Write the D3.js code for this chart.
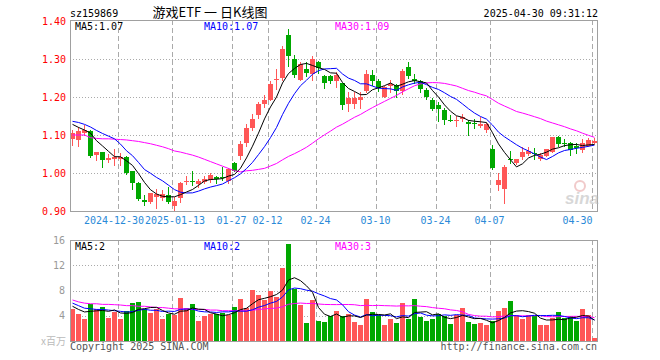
<!DOCTYPE html>
<html><head><meta charset="utf-8">
<script src="https://cdn.jsdelivr.net/npm/d3@7"></script>
<style>
body{margin:0;background:#fff}
svg{display:block}
text{font-family:"DejaVu Sans Mono",monospace;font-size:10px}
</style>
</head><body>
<svg id="c" width="660" height="360"></svg>
<script>
const dates = ["2024-12-18","2024-12-19","2024-12-20","2024-12-23","2024-12-24","2024-12-25","2024-12-26","2024-12-27","2024-12-30","2024-12-31",
"2025-01-02","2025-01-03","2025-01-06","2025-01-07","2025-01-08","2025-01-09","2025-01-10","2025-01-13","2025-01-14","2025-01-15","2025-01-16","2025-01-17","2025-01-20","2025-01-21","2025-01-22","2025-01-23","2025-01-24","2025-01-27",
"2025-02-05","2025-02-06","2025-02-07","2025-02-10","2025-02-11","2025-02-12","2025-02-13","2025-02-14","2025-02-17","2025-02-18","2025-02-19","2025-02-20","2025-02-21","2025-02-24","2025-02-25","2025-02-26","2025-02-27","2025-02-28",
"2025-03-03","2025-03-04","2025-03-05","2025-03-06","2025-03-07","2025-03-10","2025-03-11","2025-03-12","2025-03-13","2025-03-14","2025-03-17","2025-03-18","2025-03-19","2025-03-20","2025-03-21","2025-03-24","2025-03-25","2025-03-26","2025-03-27","2025-03-28","2025-03-31",
"2025-04-01","2025-04-02","2025-04-03","2025-04-07","2025-04-08","2025-04-09","2025-04-10","2025-04-11","2025-04-14","2025-04-15","2025-04-16","2025-04-17","2025-04-18","2025-04-21","2025-04-22","2025-04-23","2025-04-24","2025-04-25","2025-04-28","2025-04-29","2025-04-30"];

const open = [1.090,1.088,1.106,1.111,1.047,1.054,1.035,1.038,1.037,1.043,
1.004,0.975,0.930,0.924,0.936,0.933,0.941,0.912,0.935,0.977,
0.980,0.970,0.977,0.982,0.990,0.989,0.979,1.026,1.045,1.078,
1.118,1.153,1.182,1.193,1.244,1.250,1.364,1.300,1.246,1.274,
1.261,1.291,1.254,1.256,1.242,1.236,1.182,1.182,1.191,1.215,
1.257,1.241,1.200,1.228,1.232,1.216,1.279,1.248,1.242,1.219,
1.193,1.179,1.166,1.140,1.137,1.141,1.134,1.131,1.123,1.114,
1.064,0.969,0.958,1.036,1.026,1.042,1.050,1.053,1.036,1.045,
1.056,1.096,1.080,1.079,1.070,1.060,1.072,1.080];
const close = [1.104,1.110,1.112,1.045,1.054,1.035,1.039,1.042,1.043,1.001,
0.975,0.932,0.925,0.947,0.945,0.945,0.924,0.926,0.975,0.980,
0.978,0.978,0.984,0.995,0.983,0.987,1.010,1.006,1.077,1.118,
1.142,1.182,1.193,1.234,1.248,1.327,1.307,1.259,1.287,1.262,
1.300,1.277,1.237,1.242,1.257,1.178,1.198,1.198,1.199,1.260,
1.241,1.223,1.226,1.234,1.217,1.268,1.255,1.242,1.220,1.200,
1.168,1.169,1.139,1.137,1.140,1.147,1.129,1.128,1.130,1.130,
1.013,0.982,1.016,1.033,1.036,1.054,1.059,1.050,1.048,1.063,
1.094,1.077,1.078,1.060,1.067,1.079,1.086,1.083];
const high = [1.114,1.120,1.125,1.112,1.055,1.056,1.050,1.064,1.052,1.045,
1.005,0.976,0.942,0.948,0.958,0.955,0.962,0.937,0.976,0.992,
1.004,0.984,0.992,1.000,0.993,1.017,1.012,1.030,1.083,1.128,
1.155,1.188,1.206,1.241,1.273,1.335,1.379,1.310,1.292,1.292,
1.307,1.295,1.259,1.258,1.265,1.238,1.213,1.213,1.213,1.271,
1.270,1.247,1.229,1.244,1.234,1.273,1.292,1.260,1.245,1.224,
1.198,1.188,1.171,1.153,1.151,1.155,1.139,1.142,1.147,1.132,
1.074,1.000,1.021,1.059,1.037,1.068,1.069,1.065,1.052,1.064,
1.096,1.097,1.090,1.081,1.078,1.089,1.092,1.092];
const low = [1.074,1.072,1.099,1.041,1.035,1.017,1.030,1.021,1.020,0.997,
0.957,0.928,0.917,0.920,0.908,0.929,0.920,0.899,0.925,0.970,
0.969,0.964,0.973,0.977,0.973,0.982,0.975,1.004,1.037,1.070,
1.114,1.145,1.174,1.191,1.220,1.246,1.281,1.252,1.244,1.256,
1.244,1.264,1.224,1.237,1.225,1.168,1.164,1.172,1.172,1.213,
1.231,1.216,1.199,1.214,1.199,1.208,1.250,1.237,1.213,1.195,
1.165,1.138,1.130,1.136,1.124,1.138,1.099,1.119,1.121,1.109,
1.010,0.955,0.921,1.027,1.025,1.036,1.047,1.038,1.034,1.044,
1.054,1.072,1.070,1.048,1.053,1.056,1.070,1.080];
// volume, millions
const volume = [5.1,4.3,3.5,5.9,5.1,5.4,3.6,4.6,3.5,4.8,
6.0,6.2,5.1,4.4,5.0,3.5,4.2,4.1,6.8,5.3,
5.8,3.2,3.9,4.2,4.2,4.5,4.1,5.4,6.7,5.2,
8.1,7.3,6.5,8.0,6.9,11.6,15.3,8.3,5.7,2.8,
6.5,3.2,3.0,3.9,4.8,3.9,4.3,3.0,2.6,6.7,
4.6,4.1,2.6,3.5,2.9,6.0,3.5,6.7,3.8,3.2,
3.5,4.3,4.0,2.7,4.1,5.2,3.0,2.7,2.9,2.6,
3.2,4.8,5.2,6.4,4.1,3.5,4.1,3.9,2.5,2.6,
3.6,4.6,3.6,3.9,3.1,5.0,4.1,0.4];

// moving-average values at the left edge (history before the window)
const ma5Lead = [1.128,1.120,1.113,1.105];
const ma10Lead = [1.136,1.133,1.128,1.121,1.112,1.104,1.097,1.090,1.076];
const ma30Lead = [1.100,1.100,1.100,1.093,1.091,1.090,1.090,1.089,1.088,1.087,1.085,1.083,1.080,1.077,1.073,1.069,1.064,1.058,1.055,1.051,1.047,1.042,1.036,1.030,1.024,1.018,1.012,1.006,1.003];
const vma5Lead = [5.5,5.0,4.6,4.7];
const vma10Lead = [6.0,5.6,5.2,5.1,5.0,5.0,4.9,4.8,4.7];
const vma30Lead = [6.5,6.2,6.0,5.9,5.9,5.8,5.8,5.75,5.7,5.6,5.6,5.5,5.5,5.4,5.3,5.3,5.2,5.1,5.1,5.1,5.0,5.0,5.0,4.9,4.9,4.8,4.8,4.8,4.8];

const priceTicks = [1.40,1.30,1.20,1.10,1.00,0.90];
const volTicks = [16,12,8,4];
const tickDates = ["2024-12-30","2025-01-13","2025-01-27","2025-02-12","2025-02-24","2025-03-10","2025-03-24","2025-04-07","2025-04-30"];
const tickLabels = ["2024-12-30","2025-01-13","01-27","02-12","02-24","03-10","03-24","04-07","04-30"];
const priceMaLabels = ["MA5:1.07","MA10:1.07","MA30:1.09"];
const volMaLabels = ["MA5:2","MA10:2","MA30:3"];
const maColors = ["#000000","#0000ff","#ff00ff"];

const UP = "#ff5757", DOWN = "#00a800", GRID = "#aaaaaa", BORDER = "#a0a0a0";
const L = 70, R = 598, PT = 20, PB = 211, VT = 240, VB = 341;

const svg = d3.select("#c");
const x = d3.scalePoint().domain(dates).range([72.5, 594.5]);
const y = d3.scaleLinear().domain([0.9, 1.4]).range([PB, 21]);
const yv = d3.scaleLinear().domain([0, 16]).range([VB, VT]);

function ma(vals, n, lead) {
  return vals.map((v, i) => i < n - 1 ? lead[i] : d3.mean(vals.slice(i - n + 1, i + 1)));
}
const gx = d => Math.round(x(d) - 2.5) + 0.5;

// horizontal dotted grid
svg.append("g").selectAll("line").data(priceTicks.filter(t => t < 1.39 && t > 0.91)).join("line")
  .attr("x1", L).attr("x2", R).attr("y1", d => Math.round(y(d)) + 0.5).attr("y2", d => Math.round(y(d)) + 0.5)
  .attr("stroke", GRID).attr("stroke-dasharray", "1,2");
svg.append("g").selectAll("line").data(volTicks.filter(t => t < 16)).join("line")
  .attr("x1", L).attr("x2", R).attr("y1", d => Math.round(yv(d)) + 0.5).attr("y2", d => Math.round(yv(d)) + 0.5)
  .attr("stroke", GRID).attr("stroke-dasharray", "1,2");
// vertical dashed grid
[[PT, PB], [VT, VB]].forEach(([a, b]) => {
  svg.append("g").selectAll("line").data(tickDates).join("line")
    .attr("x1", gx).attr("x2", gx).attr("y1", a).attr("y2", b)
    .attr("stroke", GRID).attr("stroke-dasharray", "5,3");
});

// candles
const idx = d3.range(dates.length);
const cg = svg.append("g");
cg.selectAll("line").data(idx).join("line")
  .attr("x1", i => x(dates[i])).attr("x2", i => x(dates[i]))
  .attr("y1", i => Math.round(y(high[i]))).attr("y2", i => Math.round(y(low[i])) + 1)
  .attr("stroke", i => close[i] >= open[i] ? UP : DOWN);
cg.selectAll("rect").data(idx).join("rect")
  .attr("x", i => x(dates[i]) - 2.5).attr("width", 5)
  .attr("y", i => Math.round(y(Math.max(open[i], close[i]))))
  .attr("height", i => Math.max(1, Math.round(y(Math.min(open[i], close[i]))) - Math.round(y(Math.max(open[i], close[i])))))
  .attr("fill", i => close[i] >= open[i] ? UP : DOWN);

// volume bars
svg.append("g").selectAll("rect").data(idx).join("rect")
  .attr("x", i => x(dates[i]) - 2.5).attr("width", 5)
  .attr("y", i => Math.round(yv(volume[i])))
  .attr("height", i => VB - Math.round(yv(volume[i])))
  .attr("fill", i => close[i] >= open[i] ? UP : DOWN);

// MA lines
const pm = [ma(close, 5, ma5Lead), ma(close, 10, ma10Lead), ma(close, 30, ma30Lead)];
const vm = [ma(volume, 5, vma5Lead), ma(volume, 10, vma10Lead), ma(volume, 30, vma30Lead)];
const lp = d3.line().x((d, i) => x(dates[i])).y(d => y(d));
const lv = d3.line().x((d, i) => x(dates[i])).y(d => yv(d));
[2, 1, 0].forEach(k => {
  svg.append("path").attr("d", lp(pm[k])).attr("fill", "none").attr("stroke", maColors[k]).attr("stroke-width", 1);
  svg.append("path").attr("d", lv(vm[k])).attr("fill", "none").attr("stroke", maColors[k]).attr("stroke-width", 1);
});

// borders
svg.append("rect").attr("x", L + 0.5).attr("y", PT + 0.5).attr("width", R - L - 1).attr("height", PB - PT)
  .attr("fill", "none").attr("stroke", BORDER);
svg.append("rect").attr("x", L + 0.5).attr("y", VT + 0.5).attr("width", R - L - 1).attr("height", VB - VT)
  .attr("fill", "none").attr("stroke", BORDER);

// axes
const ay = svg.append("g").attr("transform", `translate(${L},0)`)
  .call(d3.axisLeft(y).tickValues(priceTicks).tickFormat(d3.format(".2f")).tickSize(0).tickPadding(4));
ay.select(".domain").remove();
ay.selectAll("text").attr("fill", "#ff0000").style("font-size", "10px").style("font-family", "DejaVu Sans Mono");

const av = svg.append("g").attr("transform", `translate(${L},0)`)
  .call(d3.axisLeft(yv).tickValues(volTicks).tickFormat(d3.format("d")).tickSize(0).tickPadding(5));
av.select(".domain").remove();
av.selectAll("text").attr("fill", "#999999").style("font-size", "10px").style("font-family", "DejaVu Sans Mono");

const ax = svg.append("g").attr("transform", `translate(-3.5,${PB})`)
  .call(d3.axisBottom(x).tickValues(tickDates).tickFormat((d, i) => tickLabels[i]).tickSize(0).tickPadding(6));
ax.select(".domain").remove();
ax.selectAll("text").attr("fill", "#2a8ad8").style("font-size", "10px").style("font-family", "DejaVu Sans Mono");
ax.selectAll(".tick").filter((d, i) => i === 0).select("text").attr("x", -3.5);
ax.selectAll(".tick").filter((d, i) => i === 1).select("text").attr("x", 3.5);
ax.selectAll(".tick").filter((d, i) => i === tickDates.length - 1).select("text")
  .attr("text-anchor", "end").attr("x", 1);

// MA labels
const labX = [75, 204, 335];
priceMaLabels.forEach((t, k) => svg.append("text").attr("x", labX[k]).attr("y", 29.5).attr("fill", maColors[k]).text(t));
volMaLabels.forEach((t, k) => svg.append("text").attr("x", labX[k]).attr("y", 250).attr("fill", maColors[k]).text(t));

// header
svg.append("text").attr("x", 70).attr("y", 16.5).attr("fill", "#000").text("sz159869");
svg.append("text").attr("x", 210).attr("y", 17).attr("text-anchor", "middle").attr("fill", "#000")
  .attr("xml:space", "preserve")
  .style("font-family", "'Noto Sans CJK SC'").style("font-size", "13px").style("white-space", "pre").text("游戏ETF 一 日K线图");
svg.append("text").attr("x", 598).attr("y", 16.5).attr("text-anchor", "end").attr("fill", "#000").text("2025-04-30 09:31:12");

// footer
svg.append("text").attr("x", 66).attr("y", 345).attr("text-anchor", "end").attr("fill", "#bbbbbb")
  .style("font-family", "'Noto Sans CJK SC'").style("font-size", "10px").text("x百万");
svg.append("text").attr("x", 70).attr("y", 350).attr("fill", "#555").text("Copyright 2025 SINA.COM");
svg.append("text").attr("x", 597).attr("y", 350).attr("text-anchor", "end").attr("fill", "#555").text("http://finance.sina.com.cn");

// watermark
const wm = svg.append("g").attr("opacity", 0.55);
wm.append("circle").attr("cx", 580).attr("cy", 186).attr("r", 5).attr("fill", "none").attr("stroke", "#e6a0a0").attr("stroke-width", 2);
wm.append("text").attr("x", 565).attr("y", 204).attr("fill", "#b8b8b8")
  .style("font-family", "'Liberation Sans'").style("font-size", "17px").style("font-weight", "bold").style("font-style", "italic").text("sina");
</script>
</body></html>
